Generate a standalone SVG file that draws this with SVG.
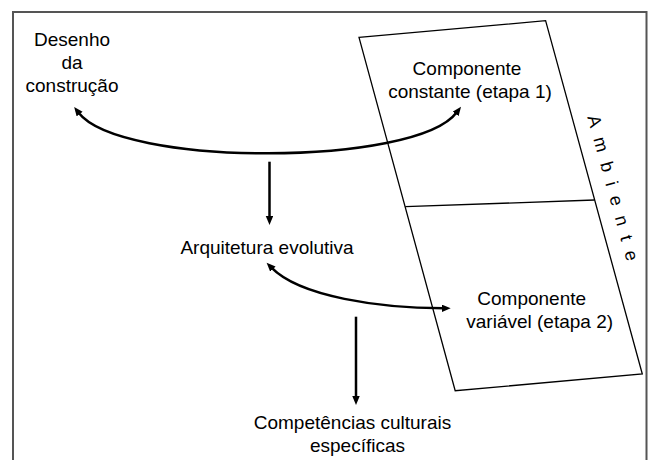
<svg xmlns="http://www.w3.org/2000/svg" width="650" height="460" viewBox="0 0 650 460">
<defs>
<style>
.t{font-family:"Liberation Sans",Arial,sans-serif;font-size:19px;fill:#000;text-anchor:middle}
.amb{font-family:"Liberation Sans",Arial,sans-serif;font-size:18px;fill:#000;letter-spacing:10.6px}
.c{fill:none;stroke:#000;stroke-width:2.5}
.box{fill:none;stroke:#000;stroke-width:1.3}
</style>
<marker id="ah" markerUnits="userSpaceOnUse" markerWidth="10" markerHeight="8" refX="2" refY="3.75" orient="auto-start-reverse">
<path d="M0,0 L9,3.75 L0,7.5 z" fill="#000"/>
</marker>
</defs>
<rect width="650" height="460" fill="#fff"/>
<path d="M13,460 V12 H646.5 V460" fill="none" stroke="#555" stroke-width="2"/>
<g id="ambiente">
<polygon class="box" points="359,37.3 545.6,20.7 642.3,374 455.2,390.7"/>
<line class="box" x1="405.3" y1="206.7" x2="594.5" y2="200"/>
<text class="amb" transform="translate(587.2,116.9) rotate(74.7)" x="0" y="0">Ambiente</text>
</g>
<g id="desenho">
<text class="t" x="72" y="46">Desenho</text>
<text class="t" x="72" y="68.5">da</text>
<text class="t" x="72" y="92">construção</text>
</g>
<g id="comp-constante">
<text class="t" x="467" y="75">Componente</text>
<text class="t" x="470" y="97.5">constante (etapa 1)</text>
</g>
<g id="arquitetura">
<text class="t" x="267" y="254.3">Arquitetura evolutiva</text>
</g>
<g id="comp-variavel">
<text class="t" x="531.7" y="305">Componente</text>
<text class="t" x="539.7" y="327.5">variável (etapa 2)</text>
</g>
<g id="competencias">
<text class="t" x="352.5" y="429">Competências culturais</text>
<text class="t" x="357.5" y="451.7">específicas</text>
</g>
<g id="connectors">
<path class="c" d="M78.4,112.5 C120,167 416,167 456.8,112.3" marker-start="url(#ah)" marker-end="url(#ah)"/>
<path class="c" d="M269.5,161.7 V218" marker-end="url(#ah)"/>
<path class="c" d="M271.5,267.7 C300,297 380,308 443.7,308.3" marker-start="url(#ah)" marker-end="url(#ah)"/>
<path class="c" d="M356,316.7 V398" marker-end="url(#ah)"/>
</g>
</svg>
